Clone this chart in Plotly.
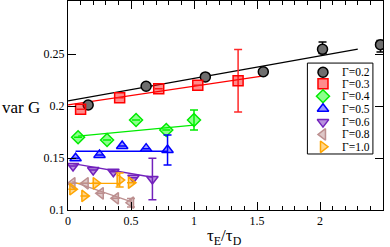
import plotly.graph_objects as go

# ---- data ----
gamma_labels = ["Γ=0.2", "Γ=0.3", "Γ=0.4", "Γ=0.5", "Γ=0.6", "Γ=0.8", "Γ=1.0"]

x_g02 = [0.16, 0.62, 1.09, 1.55, 2.02, 2.48]
y_g02 = [0.201, 0.219, 0.228, 0.233, 0.2545, 0.259]
eup_g02 = [None, None, None, None, 0.007, 0.004]
edn_g02 = [None, None, None, None, 0.004, 0.007]
fit_x_g02 = [0.0, 2.30]
fit_y_g02 = [0.205, 0.2548]

x_g03 = [0.10, 0.41, 0.72, 1.03, 1.35]
y_g03 = [0.197, 0.208, 0.2167, 0.220, 0.2243]
e_g03 = [None, None, None, None, 0.030]
fit_x_g03 = [0.0, 1.54]
fit_y_g03 = [0.201, 0.2288]

x_g04 = [0.08, 0.31, 0.54, 0.78, 1.00]
y_g04 = [0.170, 0.1673, 0.1865, 0.177, 0.1865]
e_g04 = [None, None, None, None, 0.0096]
fit_x_g04 = [0.08, 1.00]
fit_y_g04 = [0.171, 0.1817]

x_g05 = [0.06, 0.25, 0.43, 0.62, 0.79]
y_g05 = [0.1497, 0.153, 0.1615, 0.159, 0.1577]
e_g05 = [None, None, None, None, 0.0145]
fit_x_g05 = [0.06, 0.79]
fit_y_g05 = [0.1565, 0.1565]

x_g06 = [0.04, 0.20, 0.36, 0.52, 0.67]
y_g06 = [0.1423, 0.1385, 0.1368, 0.131, 0.1298]
e_g06 = [None, None, None, None, 0.020]
fit_x_g06 = [0.04, 0.67]
fit_y_g06 = [0.1445, 0.1315]

x_g08 = [0.035, 0.14, 0.26, 0.38, 0.50]
y_g08 = [0.1257, 0.1257, 0.116, 0.1112, 0.107]
e_g08 = [None, None, None, None, 0.004]
fit_x_g08 = [0.035, 0.50]
fit_y_g08 = [0.1272, 0.108]

x_g10 = [0.035, 0.13, 0.22, 0.41, 0.50]
y_g10 = [0.120, 0.1135, 0.1257, 0.1288, 0.1263]
e_g10 = [None, None, None, 0.0067, None]
fit_x_g10 = [0.03, 0.42]
fit_y_g10 = [0.1257, 0.1257]

x_ticks = [0, 0.5, 1, 1.5, 2, 2.5]
x_ticklabels = ["0", "0.5", "1", "1.5", "2", "2.5"]
y_ticks = [0.1, 0.15, 0.2, 0.25]
y_ticklabels = ["0.1", "0.15", "0.2", "0.25"]

# ---- styles ----
FONT = "Liberation Serif, Times New Roman, serif"
series = [
    dict(x=x_g02, y=y_g02, eu=eup_g02, ed=edn_g02, fx=fit_x_g02, fy=fit_y_g02,
         sym="circle", line="black", fill="rgb(110,110,110)", ecol="black"),
    dict(x=x_g03, y=y_g03, eu=e_g03, ed=e_g03, fx=fit_x_g03, fy=fit_y_g03,
         sym="square", line="rgb(255,0,0)", fill="rgba(255,0,0,0.45)", ecol="rgb(255,40,40)"),
    dict(x=x_g04, y=y_g04, eu=e_g04, ed=e_g04, fx=fit_x_g04, fy=fit_y_g04,
         sym="diamond", line="rgb(0,235,0)", fill="rgba(0,255,0,0.45)", ecol="rgb(0,235,0)"),
    dict(x=x_g05, y=y_g05, eu=e_g05, ed=e_g05, fx=fit_x_g05, fy=fit_y_g05,
         sym="triangle-up", line="rgb(0,0,255)", fill="rgba(0,0,255,0.4)", ecol="rgb(0,0,255)"),
    dict(x=x_g06, y=y_g06, eu=e_g06, ed=e_g06, fx=fit_x_g06, fy=fit_y_g06,
         sym="triangle-down", line="rgb(114,33,188)", fill="rgba(114,33,188,0.5)", ecol="rgb(114,33,188)"),
    dict(x=x_g08, y=y_g08, eu=e_g08, ed=e_g08, fx=fit_x_g08, fy=fit_y_g08,
         sym="triangle-left", line="rgb(188,143,143)", fill="rgba(188,143,143,0.5)", ecol="rgb(188,143,143)"),
    dict(x=x_g10, y=y_g10, eu=e_g10, ed=e_g10, fx=fit_x_g10, fy=fit_y_g10,
         sym="triangle-right", line="rgb(255,165,0)", fill="rgba(255,165,0,0.45)", ecol="rgb(255,165,0)"),
]

fig = go.Figure()

# fit lines
for s in series:
    fig.add_trace(go.Scatter(x=s["fx"], y=s["fy"], mode="lines",
                             line=dict(color=s["line"], width=1.3),
                             showlegend=False, hoverinfo="skip"))

# data points with error bars
for s, name in zip(series, gamma_labels):
    fig.add_trace(go.Scatter(
        x=s["x"], y=s["y"], mode="markers", name=name, showlegend=False,
        marker=dict(symbol=s["sym"], size=10, color=s["fill"],
                    line=dict(color=s["line"], width=1.5)),
        error_y=dict(type="data", symmetric=False, array=s["eu"], arrayminus=s["ed"],
                     color=s["ecol"], thickness=1.5, width=4),
    ))

# manual legend (markers on an overlay axis in paper-like coordinates)
leg_y = [0.659, 0.6035, 0.5445, 0.4845, 0.4205, 0.3615, 0.3025]
leg_mx = 0.8095
leg_tx = 0.862
for s, name, yy in zip(series, gamma_labels, leg_y):
    fig.add_trace(go.Scatter(
        x=[leg_mx], y=[yy], xaxis="x2", yaxis="y2", mode="markers", showlegend=False,
        hoverinfo="skip",
        marker=dict(symbol=s["sym"], size=10, color=s["fill"],
                    line=dict(color=s["line"], width=1.5)),
    ))
    fig.add_annotation(x=leg_tx, y=yy, xref="paper", yref="paper", text=name,
                       showarrow=False, xanchor="left", yanchor="middle",
                       font=dict(family=FONT, size=11.5, color="black"))

fig.add_shape(type="rect", xref="paper", yref="paper", x0=0.76, x1=0.968,
              y0=0.268, y1=0.703, line=dict(color="black", width=1),
              fillcolor="white", layer="below")

# axis titles
fig.add_annotation(x=-0.215, y=0.49, xref="paper", yref="paper", text="var G",
                   showarrow=False, xanchor="left", yanchor="middle",
                   font=dict(family=FONT, size=17, color="black"))
fig.add_annotation(x=0.498, y=-0.066, xref="paper", yref="paper",
                   text="τ<sub>E</sub>/τ<sub>D</sub>",
                   showarrow=False, xanchor="center", yanchor="top",
                   font=dict(family=FONT, size=17, color="black"))

fig.update_layout(
    width=390, height=247,
    margin=dict(l=68, r=7, t=1, b=37),
    paper_bgcolor="white", plot_bgcolor="white",
    showlegend=False,
    font=dict(family=FONT, size=12, color="black"),
    xaxis=dict(range=[0, 2.5], tickvals=x_ticks, ticktext=x_ticklabels,
               ticks="inside", ticklen=8, tickwidth=1, tickcolor="black",
               minor=dict(dtick=0.1, tick0=0, ticks="inside", ticklen=4, tickcolor="black"),
               showline=True, linecolor="black", linewidth=1, mirror="ticks",
               showgrid=False, zeroline=False,
               tickfont=dict(family=FONT, size=12, color="black")),
    yaxis=dict(range=[0.1, 0.301], tickvals=y_ticks, ticktext=y_ticklabels,
               ticks="inside", ticklen=8, tickwidth=1, tickcolor="black",
               showline=True, linecolor="black", linewidth=1, mirror="ticks",
               showgrid=False, zeroline=False,
               tickfont=dict(family=FONT, size=12, color="black")),
    xaxis2=dict(overlaying="x", range=[0, 1], visible=False, fixedrange=True),
    yaxis2=dict(overlaying="y", range=[0, 1], visible=False, fixedrange=True),
)

fig.write_html("out.html", config={"displayModeBar": False},
               post_script="document.body.style.margin='0';document.body.style.overflow='hidden';")
